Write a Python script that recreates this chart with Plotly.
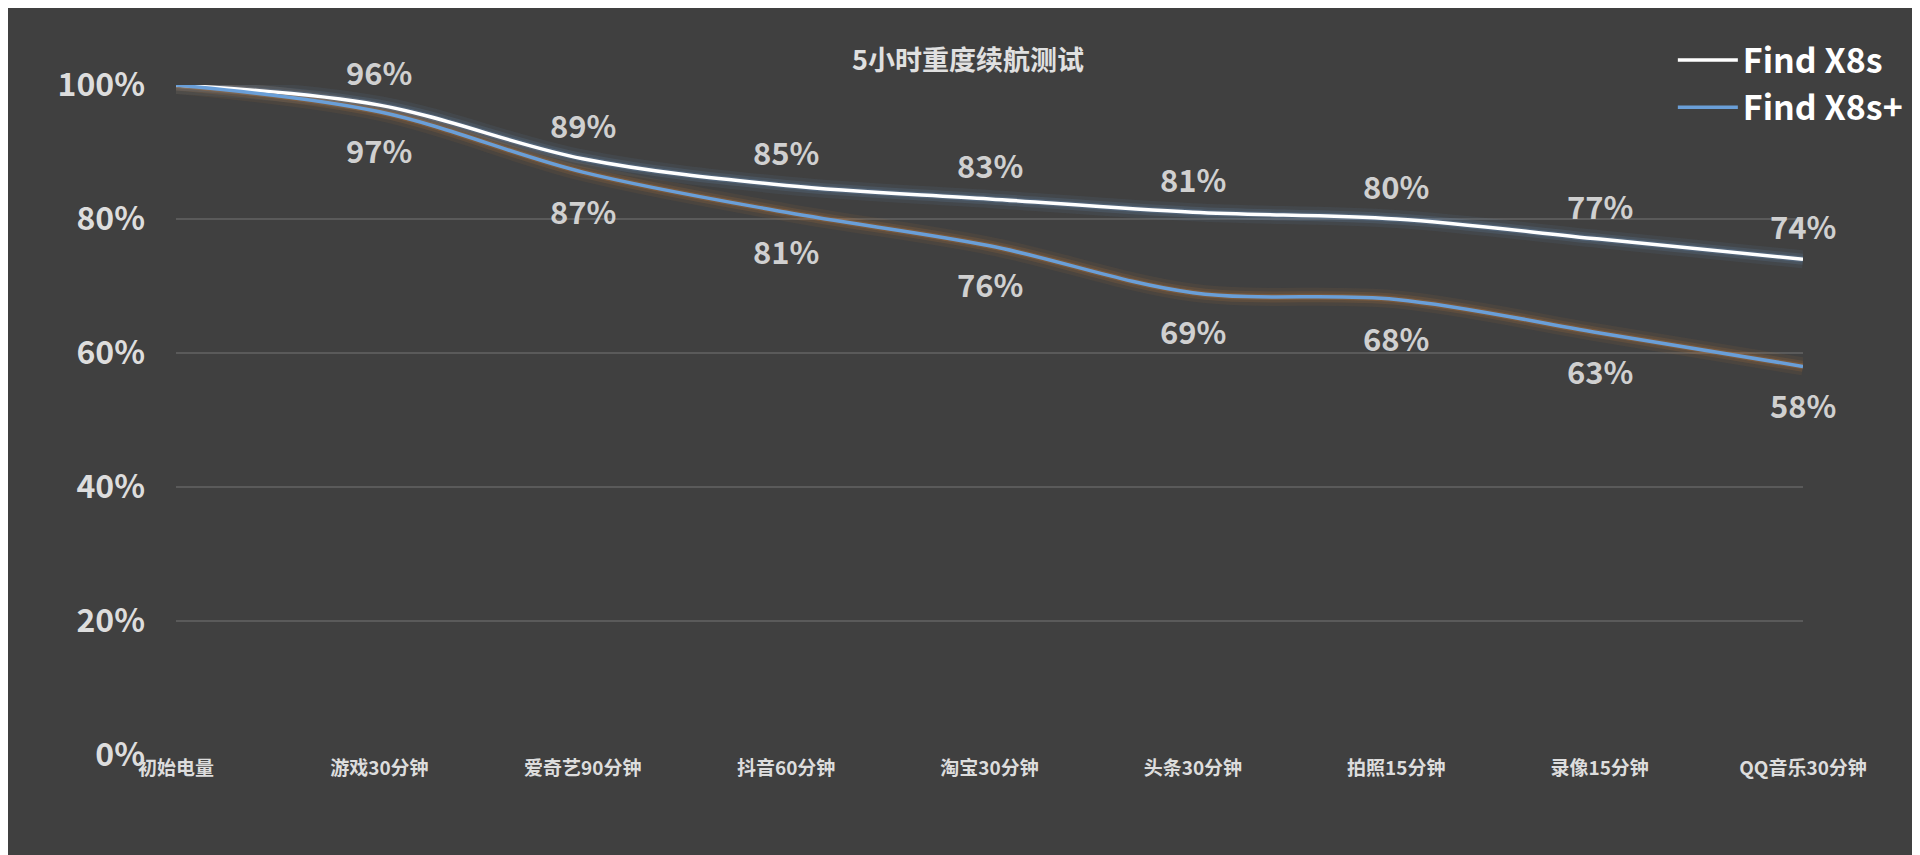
import plotly.graph_objects as go

categories = ["初始电量", "游戏30分钟", "爱奇艺90分钟", "抖音60分钟", "淘宝30分钟",
              "头条30分钟", "拍照15分钟", "录像15分钟", "QQ音乐30分钟"]
x8s = [100, 97, 89, 85, 83, 81, 80, 77, 74]
x8s_plus = [100, 96, 87, 81, 76, 69, 68, 63, 58]
x8s_labels = ["", "96%", "89%", "85%", "83%", "81%", "80%", "77%", "74%"]
x8s_plus_labels = ["", "97%", "87%", "81%", "76%", "69%", "68%", "63%", "58%"]

xs = list(range(len(categories)))
fig = go.Figure()

# glow underlays
for w, a in [(18, 0.07), (11, 0.12), (6, 0.2)]:
    fig.add_trace(go.Scatter(x=xs, y=x8s, mode="lines", line=dict(color=f"rgba(120,170,230,{a})", width=w, shape="spline"),
                             showlegend=False, hoverinfo="skip"))
    fig.add_trace(go.Scatter(x=xs, y=x8s_plus, mode="lines", line=dict(color=f"rgba(230,140,60,{a})", width=w, shape="spline"),
                             showlegend=False, hoverinfo="skip"))

fig.add_trace(go.Scatter(x=xs, y=x8s, mode="lines", name="<b>Find X8s</b>",
                         line=dict(color="#ffffff", width=3.5, shape="spline")))
fig.add_trace(go.Scatter(x=xs, y=x8s_plus, mode="lines", name="<b>Find X8s+</b>",
                         line=dict(color="#6a9fd8", width=3.5, shape="spline")))

lbl_font = dict(family="Noto Sans CJK SC", size=31, color="#d0d0d0")
for i in xs:
    if x8s_labels[i]:
        fig.add_annotation(x=i, y=x8s[i], text=f"<b>{x8s_labels[i]}</b>", showarrow=False,
                           yshift=34, font=lbl_font)
    if x8s_plus_labels[i]:
        fig.add_annotation(x=i, y=x8s_plus[i], text=f"<b>{x8s_plus_labels[i]}</b>", showarrow=False,
                           yshift=-38, font=lbl_font)

fig.update_layout(
    width=1920, height=855,
    paper_bgcolor="#404040", plot_bgcolor="#404040",
    margin=dict(l=168, r=125, t=77, b=108),
    font=dict(family="Noto Sans CJK SC", color="#e0e0e0"),
    title=dict(text="<b>5小时重度续航测试</b>", x=0.5, y=0.95, xanchor="center",
               font=dict(size=27, color="#e0e0e0")),
    legend=dict(x=0.92, y=1.08, xanchor="left", yanchor="top", bgcolor="rgba(0,0,0,0)",
                font=dict(size=34, color="#ffffff", family="Noto Sans CJK SC"),
                itemwidth=60, traceorder="normal", tracegroupgap=4),
    xaxis=dict(range=[0, 8], tickmode="array", tickvals=xs, ticktext=[f"<b>{c}</b>" for c in categories],
               tickfont=dict(size=19, color="#dddddd"), showgrid=False, zeroline=False, ticks="", ticklen=0),
    yaxis=dict(range=[0, 100], tickvals=[0, 20, 40, 60, 80, 100],
               ticktext=[f"<b>{v}%</b>" for v in [0, 20, 40, 60, 80, 100]],
               tickfont=dict(size=32, color="#dddddd"), gridcolor="#5a5a5a", gridwidth=1.5,
               zeroline=False, ticklabelstandoff=30),
)
fig.write_html("out.html")
